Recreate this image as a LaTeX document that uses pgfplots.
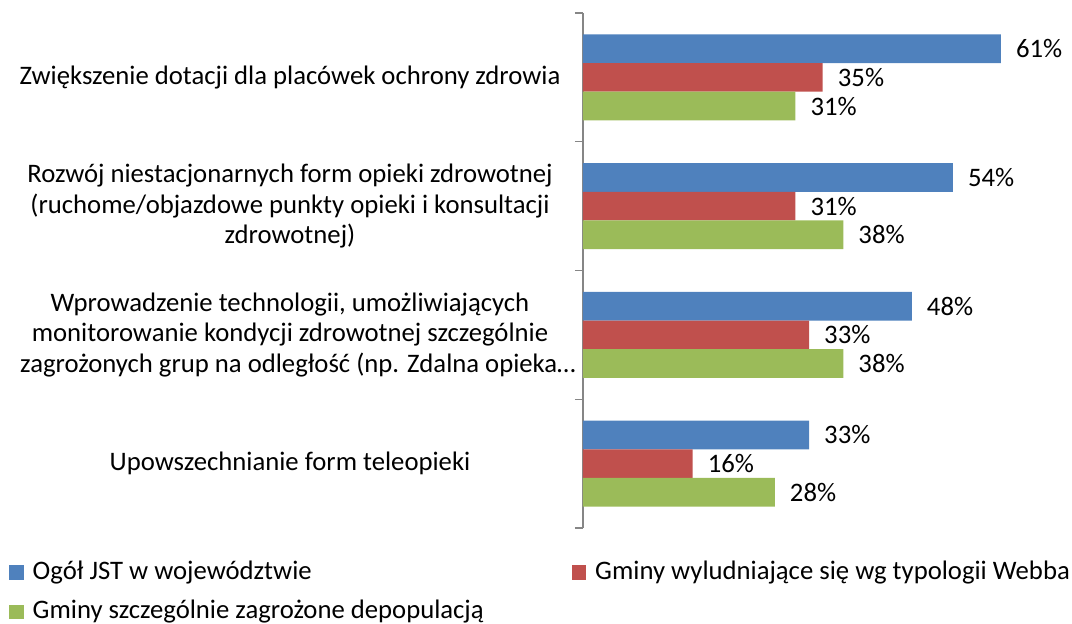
\documentclass[border=0pt]{standalone}
\usepackage{fontspec}
\setmainfont{Carlito}
\usepackage{pgfplots}
\pgfplotsset{compat=1.18}
\definecolor{cblue}{HTML}{4F81BD}
\definecolor{cred}{HTML}{C0504D}
\definecolor{cgreen}{HTML}{9BBB59}
\definecolor{axgray}{HTML}{868686}
\pgfplotsset{sqlegend/.style={legend image code/.code={\fill[##1,draw=none] (0pt,-7pt) rectangle (14.5pt,7.5pt);}}}
\newcommand{\bigf}{\fontsize{26.7}{30.5}\selectfont}
\begin{document}
\begin{tikzpicture}[x=1pt,y=1pt,font=\bigf]
\useasboundingbox (0,0) rectangle (1072,624);
\begin{axis}[
  at={(583pt,96pt)}, anchor=south west,
  scale only axis, width=479.5pt, height=515pt,
  xbar, xmin=0, xmax=70,
  ymin=-0.5, ymax=3.5, y dir=reverse,
  bar width=28.7pt,
  hide x axis,
  axis y line*=left,
  y axis line style={axgray, line width=1.3pt},
  ytick={0,1,2,3},
  yticklabels={
    {Zwiększenie dotacji dla placówek ochrony zdrowia},
    {Rozwój niestacjonarnych form opieki zdrowotnej\\(ruchome/objazdowe punkty opieki i konsultacji\\zdrowotnej)},
    {Wprowadzenie technologii, umożliwiających\\monitorowanie kondycji zdrowotnej szczególnie\\\hspace*{16pt}zagrożonych grup na odległość (np. Zdalna opieka…},
    {Upowszechnianie form teleopieki}},
  yticklabel style={align=center, anchor=center, xshift=-293pt, font=\bigf},
  major tick length=0pt,
  extra y ticks={-0.5,0.5,1.5,2.5,3.5},
  extra y tick labels={},
  extra y tick style={major tick length=8pt, tick align=outside, tick style={axgray, line width=1.3pt}},
  /pgf/number format/assume math mode=true,
  nodes near coords={\pgfmathprintnumber{\pgfplotspointmeta}\%},
  point meta=x,
  every node near coord/.append style={anchor=west, inner xsep=0pt, xshift=15pt, font=\bigf, text=black},
  legend columns=2,
  legend cell align=left,
  legend style={draw=none, fill=none, at={(axis description cs:-1.197,-0.048)}, anchor=north west,
    inner sep=0pt, font=\bigf,
    /tikz/every even column/.append style={column sep=0pt},
    nodes={inner ysep=7.3pt, inner xsep=9pt, text height=19pt, text depth=6pt}},
]
\addplot[fill=cblue, draw=none, bar shift=28.7pt, sqlegend] coordinates {(61,0) (54,1) (48,2) (33,3)};
\addplot[fill=cred, draw=none, bar shift=0pt, sqlegend] coordinates {(35,0) (31,1) (33,2) (16,3)};
\addplot[fill=cgreen, draw=none, bar shift=-28.7pt, sqlegend] coordinates {(31,0) (38,1) (38,2) (28,3)};
\addlegendentry{\makebox[530pt][l]{Ogół JST w województwie}}
\addlegendentry{Gminy wyludniające się wg typologii Webba}
\addlegendentry{\makebox[530pt][l]{Gminy szczególnie zagrożone depopulacją}}
\end{axis}
\end{tikzpicture}
\end{document}
